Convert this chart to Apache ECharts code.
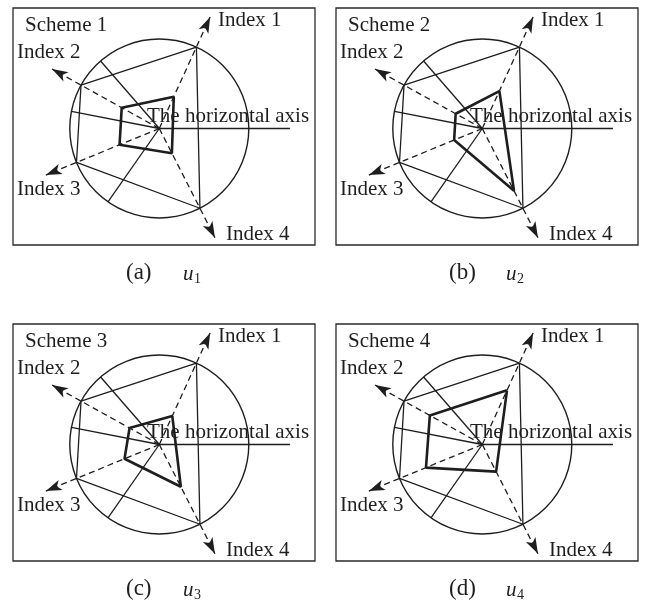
<!DOCTYPE html>
<html>
<head>
<meta charset="utf-8">
<script src="https://cdn.jsdelivr.net/npm/echarts@6/dist/echarts.min.js"></script>
<style>
  html, body { margin: 0; padding: 0; background: #fff; }
  #chart { width: 646px; height: 614px; }
</style>
</head>
<body>
<div id="chart"></div>
<script>
// directions of the four index axes, degrees counter-clockwise from the horizontal axis
const indexNames = ['Index 1', 'Index 2', 'Index 3', 'Index 4'];
const indexAngles = [65.5, 151, 202.3, 297];
// the extra solid rays from the centre out to the circle
const rayAngles = [131, 169, 235];
const schemeNames = ['Scheme 1', 'Scheme 2', 'Scheme 3', 'Scheme 4'];
const captionLetters = ['(a)', '(b)', '(c)', '(d)'];
const captionSubs = ['1', '2', '3', '4'];
// index values of each scheme (1 = the circle)
const scheme1 = [0.39, 0.48, 0.48, 0.31];
const scheme2 = [0.46, 0.34, 0.34, 0.78];
const scheme3 = [0.35, 0.38, 0.42, 0.53];
const scheme4 = [0.665, 0.67, 0.68, 0.34];
const schemes = [scheme1, scheme2, scheme3, scheme4];
const circleValue = 1;
const arrowValue = 1.37;
const horizontalValue = 1.46;

const chart = echarts.init(document.getElementById('chart'));

const ink = '#1e1e1e';
const font = '"Liberation Serif", "Times New Roman", serif';
// panel offsets (a) (b) (c) (d)
const panels = [[0, 0], [323, 0], [0, 316], [323, 316]];

let polar = [], angleAxis = [], radiusAxis = [], grid = [], series = [], graphic = [];

function seg(i, points, style) {
    series.push({
        type: 'line',
        coordinateSystem: 'polar',
        polarIndex: i,
        symbol: 'none',
        silent: true,
        animation: false,
        lineStyle: style,
        itemStyle: { color: ink },
        data: points
    });
}

panels.forEach(function(p, i) {
    let ox = p[0], oy = p[1];
    grid.push({
        show: true, left: ox + 13, top: oy + 8, width: 302, height: 237,
        borderColor: '#2a2a2a', borderWidth: 1.3, backgroundColor: 'transparent'
    });
    polar.push({ center: [ox + 159.3, oy + 128.5], radius: 134.25 });
    angleAxis.push({
        polarIndex: i, type: 'value', min: 0, max: 360, startAngle: 0, clockwise: false,
        axisLine: { show: false }, axisTick: { show: false },
        axisLabel: { show: false }, splitLine: { show: false }
    });
    radiusAxis.push({
        polarIndex: i, type: 'value', min: 0, max: 1.5, interval: 1,
        axisLine: { show: false }, axisTick: { show: false }, axisLabel: { show: false },
        splitLine: { show: true, lineStyle: { color: ['rgba(0,0,0,0)', ink, 'rgba(0,0,0,0)'], width: 1.4 } }
    });

    // dashed index axes with arrow heads
    indexAngles.forEach(function(a) {
        seg(i, [[0, a], {
            value: [arrowValue, a], symbol: 'arrow', symbolSize: [8, 16], symbolRotate: a - 90
        }], { color: ink, width: 1.3, type: [6, 4] });
    });
    // solid rays and the horizontal axis
    rayAngles.forEach(function(a) {
        seg(i, [[0, a], [circleValue, a]], { color: ink, width: 1.3 });
    });
    seg(i, [[0, 0], [horizontalValue, 0]], { color: ink, width: 1.3 });
    // quadrilateral through the circle points
    let frame = indexAngles.map(function(a) { return [circleValue, a]; });
    frame.push(frame[0]);
    seg(i, frame, { color: ink, width: 1.3 });
    // scheme polygon
    let poly = indexAngles.map(function(a, k) { return [schemes[i][k], a]; });
    poly.push(poly[0]);
    seg(i, poly, { color: ink, width: 2.6 });

    // texts
    let txt = function(s, x, y, size, style) {
        graphic.push({
            type: 'text', silent: true,
            style: {
                text: s, x: ox + x, y: oy + y, fill: ink,
                font: (style || '') + ' ' + (size || 21) + 'px ' + font, verticalAlign: 'middle'
            }
        });
    };
    txt(schemeNames[i], 25, 25);
    txt(indexNames[0], 218, 20);
    txt(indexNames[1], 17, 52);
    txt(indexNames[2], 17, 189);
    txt(indexNames[3], 226, 234);
    txt('The horizontal axis', 147, 116);
    txt(captionLetters[i], 126, 273, 23);
    txt('u', 183, 274, 21, 'italic');
    txt(captionSubs[i], 194, 279, 14);
});

chart.setOption({
    animation: false,
    backgroundColor: '#fff',
    grid: grid,
    polar: polar,
    angleAxis: angleAxis,
    radiusAxis: radiusAxis,
    series: series,
    graphic: graphic
});
</script>
</body>
</html>
